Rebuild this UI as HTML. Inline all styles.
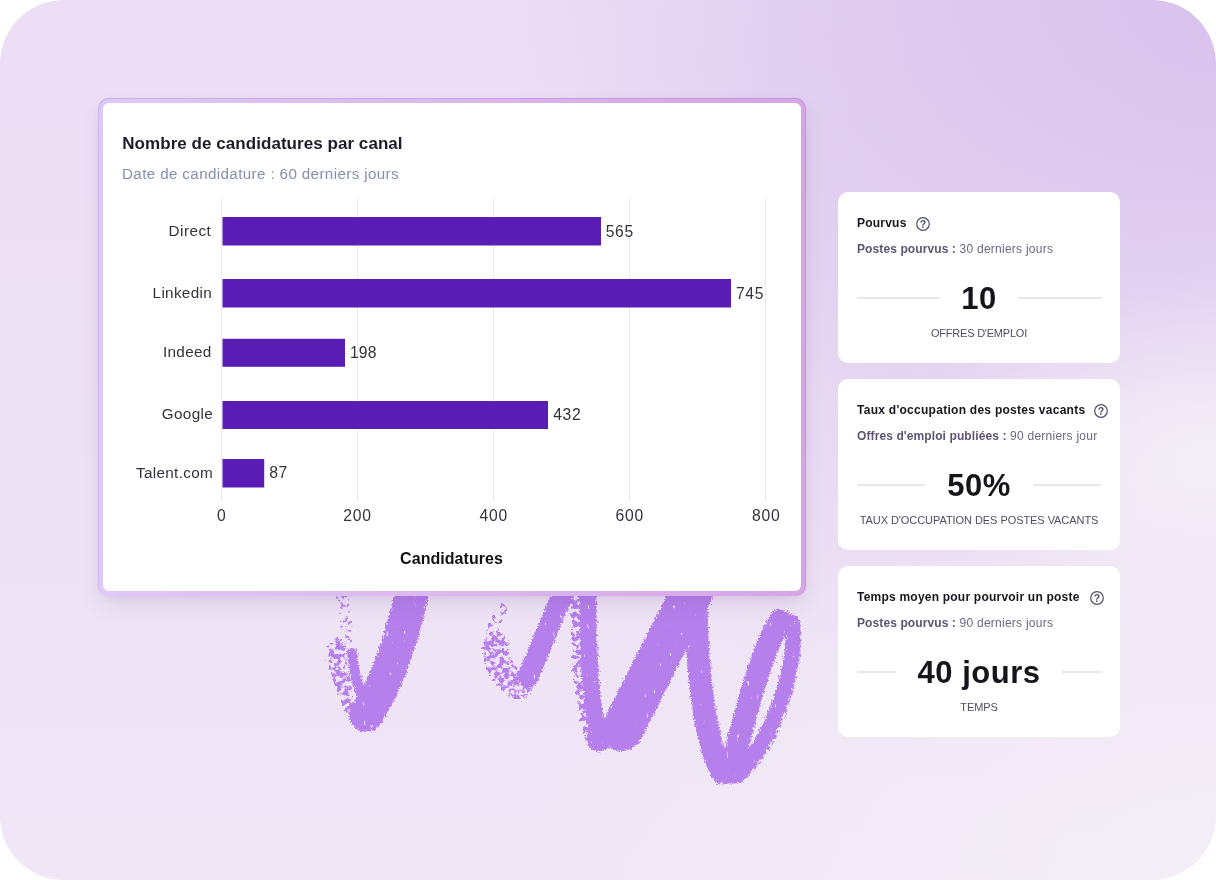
<!DOCTYPE html>
<html lang="fr">
<head>
<meta charset="utf-8">
<title>Nombre de candidatures par canal</title>
<style>
*{box-sizing:border-box;margin:0;padding:0}
html,body{width:1216px;height:880px;background:#fff;overflow:hidden}
body{font-family:"Liberation Sans",sans-serif;color:#1c1c28;position:relative}
.stage{position:absolute;left:0;top:0;width:1216px;height:880px;border-radius:64px;overflow:hidden;
  background:
    radial-gradient(ellipse 300px 170px at 100% 52%, rgba(244,240,247,.9) 0%, rgba(244,240,247,0) 100%),
    radial-gradient(ellipse 700px 420px at 100% 100%, rgba(244,240,247,.85) 0%, rgba(244,240,247,0) 100%),
    radial-gradient(ellipse 330px 430px at 880px 270px, rgba(222,202,238,.6) 0%, rgba(221,200,238,0) 100%),
    radial-gradient(ellipse 720px 480px at 100% 0%, #d9c2ec 0%, #dcc7ee 30%, rgba(220,199,238,0) 100%),
    linear-gradient(180deg,#ecdff5 0%,#eee2f5 55%,#f0e6f6 100%);}
.scribble{position:absolute;left:300px;top:580px;width:520px;height:230px}
.chart-card{position:absolute;left:98px;top:98px;width:708px;height:498px;border-radius:10.5px;padding:5px;
  background:linear-gradient(90deg,#dfc9f8 0%,#d6a5e6 100%);
  box-shadow:inset 1px 1px 0 rgba(80,60,150,.14),inset -1px 0 0 rgba(80,60,150,.14),0 10px 22px -5px rgba(95,70,130,.17),0 2px 8px rgba(95,70,130,.05)}
.chart-inner{position:relative;width:100%;height:100%;background:#fff;border-radius:6px}
.chart-title{position:absolute;left:19.3px;top:30.5px;font-weight:700;font-size:17px;line-height:20px;color:#1c1c28;white-space:nowrap;letter-spacing:.05px}
.chart-sub{position:absolute;left:19px;top:61.4px;font-size:15.2px;line-height:20px;color:#8490ab;white-space:nowrap;letter-spacing:.37px}
.chart-svg{position:absolute;left:0;top:0;width:698px;height:488px}
.stat{position:absolute;left:838px;width:282px;height:171px;background:#fff;border-radius:10px}
.stat h3{position:absolute;left:19px;top:22.7px;font-size:12px;line-height:16px;font-weight:700;color:#17171f;white-space:nowrap;letter-spacing:.22px}
.stat .q{position:absolute;top:24.7px;width:14px;height:14px}
.stat .meta{position:absolute;left:19px;top:48.6px;font-size:12px;line-height:16px;color:#6d6782;white-space:nowrap;overflow:hidden;width:240.2px;letter-spacing:.25px}
.stat .meta b{color:#5d5672;letter-spacing:.1px}
.stat .rule{position:absolute;top:105.3px;height:1.3px;background:#e8e7ef}
.stat .big{position:absolute;left:0;width:282px;top:89px;text-align:center;font-size:31px;font-weight:700;line-height:36px;color:#15151c;white-space:nowrap;letter-spacing:.5px}
.stat .cap{position:absolute;left:0;width:282px;top:133.9px;text-align:center;font-size:11px;line-height:14px;color:#514d66;white-space:nowrap;letter-spacing:-.1px}
</style>
</head>
<body>
<div class="stage">
  <svg class="scribble" viewBox="300 580 520 230">
    <defs>
      <filter id="rough" x="-10%" y="-10%" width="120%" height="120%" color-interpolation-filters="sRGB">
        <feTurbulence type="fractalNoise" baseFrequency="0.55" numOctaves="2" seed="4" result="n"/>
        <feDisplacementMap in="SourceGraphic" in2="n" scale="6" xChannelSelector="R" yChannelSelector="G" result="d"/>
        <feTurbulence type="fractalNoise" baseFrequency="0.3 0.1" numOctaves="2" seed="23" result="n2"/>
        <feColorMatrix in="n2" type="matrix" values="0 0 0 0 0  0 0 0 0 0  0 0 0 0 0  16 0 0 0 -12.2" result="holes"/>
        <feComposite in="d" in2="holes" operator="out"/>
      </filter>
      <filter id="dry" x="-10%" y="-10%" width="120%" height="120%" color-interpolation-filters="sRGB">
        <feTurbulence type="fractalNoise" baseFrequency="0.22" numOctaves="3" seed="11" result="n"/>
        <feColorMatrix in="n" type="matrix" values="0 0 0 0 0  0 0 0 0 0  0 0 0 0 0  9 0 0 0 -3.9" result="m"/>
        <feDisplacementMap in="SourceGraphic" in2="n" scale="10" xChannelSelector="R" yChannelSelector="G" result="d"/>
        <feComposite in="d" in2="m" operator="in"/>
      </filter>
      <filter id="sparse" x="-10%" y="-10%" width="120%" height="120%" color-interpolation-filters="sRGB">
        <feTurbulence type="fractalNoise" baseFrequency="0.25" numOctaves="3" seed="5" result="n"/>
        <feColorMatrix in="n" type="matrix" values="0 0 0 0 0  0 0 0 0 0  0 0 0 0 0  9 0 0 0 -5.1" result="m"/>
        <feComposite in="SourceGraphic" in2="m" operator="in"/>
      </filter>
    </defs>
    <g fill="none" stroke="#b57fec" stroke-linecap="round" stroke-linejoin="round" filter="url(#sparse)">
      <path d="M342 596 C346 612 348 626 346 640" stroke-width="12"/>
      <path d="M500 610 C494 622 492 634 494 646" stroke-width="14"/>
    </g>
    <g fill="none" stroke="#b57fec" stroke-linecap="round" stroke-linejoin="round" filter="url(#dry)">
      <path d="M338 648 C337 662 340 674 345 684" stroke-width="17"/>
      <path d="M346 694 C349 704 353 712 359 720" stroke-width="11"/>
      <path d="M497 646 C495 660 504 678 520 686" stroke-width="26"/>
      <path d="M578 590 C578 650 583 705 594 738" stroke-width="14"/>
      <path d="M796 625 C800 665 784 735 741 778" stroke-width="10"/>
    </g>
    <g fill="none" stroke="#b57fec" stroke-linecap="round" stroke-linejoin="round" filter="url(#rough)">
      <path d="M413 588 C405 625 390 680 366 715" stroke-width="34"/>
      <path d="M352 653 C354 672 358 690 366 706" stroke-width="10"/>
      <path d="M565 588 L528 677" stroke-width="21"/>
      <path d="M588 590 C588 660 592 715 600 738" stroke-width="17"/>
      <path d="M599 739 L616 731" stroke-width="25"/>
      <path d="M622 730 L693 590" stroke-width="42"/>
      <path d="M696 600 C697 680 706 745 723 773" stroke-width="23"/>
      <path d="M731 772 C746 708 762 650 780 621" stroke-width="23"/>
      <path d="M792 622 C798 655 779 730 738 775" stroke-width="15"/>
    </g>
  </svg>

  <section class="chart-card">
    <div class="chart-inner">
      <svg class="chart-svg" viewBox="103 103 698 488" font-family="'Liberation Sans',sans-serif">
        <g stroke="#e6e9f2" stroke-width="1">
          <line x1="221.5" y1="197" x2="221.5" y2="500"/>
          <line x1="357.5" y1="197" x2="357.5" y2="500"/>
          <line x1="493.5" y1="197" x2="493.5" y2="500"/>
          <line x1="629.5" y1="197" x2="629.5" y2="500"/>
          <line x1="765.5" y1="197" x2="765.5" y2="500"/>
        </g>
        <g fill="#591db5">
          <rect x="222.5" y="217" width="378.5" height="28.5"/>
          <rect x="222.5" y="279" width="508.5" height="28.5"/>
          <rect x="222.5" y="338.8" width="122.5" height="28"/>
          <rect x="222.5" y="401" width="325.5" height="28"/>
          <rect x="222.5" y="459" width="41.7" height="28.5"/>
        </g>
        <g font-size="15.3" fill="#33333d" text-anchor="end" letter-spacing="0.3">
          <text x="211.2" y="236.0" letter-spacing="0.45">Direct</text>
          <text x="212" y="298.1">Linkedin</text>
          <text x="211.6" y="357.2">Indeed</text>
          <text x="213" y="419.3">Google</text>
          <text x="213" y="477.9">Talent.com</text>
        </g>
        <g font-size="15.7" fill="#33333d" letter-spacing="0.7">
          <text x="605.7" y="236.5">565</text>
          <text x="735.9" y="298.6">745</text>
          <text x="350.0" y="357.7" letter-spacing="0.15">198</text>
          <text x="553.2" y="419.8">432</text>
          <text x="269.2" y="478.4">87</text>
        </g>
        <g font-size="15.7" fill="#33333d" text-anchor="middle" letter-spacing="0.7">
          <text x="221.7" y="520.7">0</text>
          <text x="357.5" y="520.7">200</text>
          <text x="493.7" y="520.7">400</text>
          <text x="629.7" y="520.7">600</text>
          <text x="766.2" y="520.7">800</text>
        </g>
        <text x="451.5" y="563.9" font-size="16" font-weight="700" fill="#111" text-anchor="middle" letter-spacing="0.05">Candidatures</text>
      </svg>
      <h2 class="chart-title">Nombre de candidatures par canal</h2>
      <p class="chart-sub">Date de candidature : 60 derniers jours</p>
    </div>
  </section>

  <section class="stat" style="top:192px">
    <h3>Pourvus</h3>
    <svg class="q" style="left:78px" viewBox="0 0 14 14"><circle cx="7" cy="7" r="6.3" fill="none" stroke="#4d5269" stroke-width="1.2"/><text x="7" y="10.6" font-size="10.5" font-weight="700" font-family="'Liberation Sans',sans-serif" fill="#4d5269" text-anchor="middle">?</text></svg>
    <p class="meta"><b>Postes pourvus :</b> 30 derniers jours</p>
    <i class="rule" style="left:18.5px;width:83.3px"></i>
    <div class="big">10</div>
    <i class="rule" style="left:180.0px;width:83.5px"></i>
    <p class="cap" style="letter-spacing:-.22px">OFFRES D'EMPLOI</p>
  </section>

  <section class="stat" style="top:379px">
    <h3 style="letter-spacing:.27px">Taux d'occupation des postes vacants</h3>
    <svg class="q" style="left:256.2px" viewBox="0 0 14 14"><circle cx="7" cy="7" r="6.3" fill="none" stroke="#4d5269" stroke-width="1.2"/><text x="7" y="10.6" font-size="10.5" font-weight="700" font-family="'Liberation Sans',sans-serif" fill="#4d5269" text-anchor="middle">?</text></svg>
    <p class="meta"><b>Offres d'emploi publiées :</b> 90 derniers jours</p>
    <i class="rule" style="left:18.5px;width:68.4px"></i>
    <div class="big">50%</div>
    <i class="rule" style="left:195.2px;width:68.3px"></i>
    <p class="cap" style="letter-spacing:-.06px">TAUX D'OCCUPATION DES POSTES VACANTS</p>
  </section>

  <section class="stat" style="top:566px">
    <h3>Temps moyen pour pourvoir un poste</h3>
    <svg class="q" style="left:252.2px" viewBox="0 0 14 14"><circle cx="7" cy="7" r="6.3" fill="none" stroke="#4d5269" stroke-width="1.2"/><text x="7" y="10.6" font-size="10.5" font-weight="700" font-family="'Liberation Sans',sans-serif" fill="#4d5269" text-anchor="middle">?</text></svg>
    <p class="meta"><b>Postes pourvus :</b> 90 derniers jours</p>
    <i class="rule" style="left:18.5px;width:39.2px"></i>
    <div class="big">40 jours</div>
    <i class="rule" style="left:224.1px;width:39.4px"></i>
    <p class="cap">TEMPS</p>
  </section>

</div>
</body>
</html>
